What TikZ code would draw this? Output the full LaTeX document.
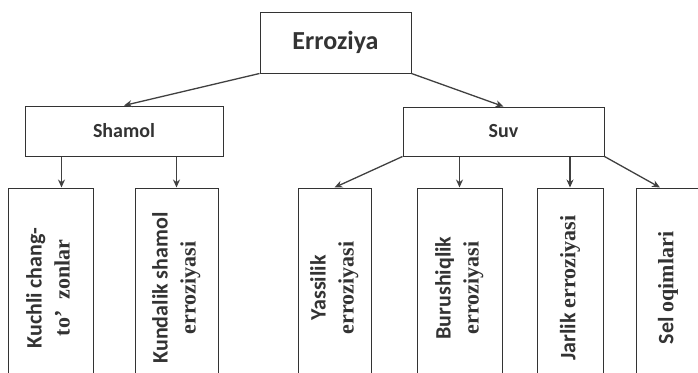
\documentclass[tikz,border=0pt]{standalone}
\usepackage{fontspec}
\setmainfont{Carlito}
\newfontfamily\serifpart{Liberation Serif}
\usepackage{tikz}
\usetikzlibrary{arrows.meta}
\newcommand{\LeafText}[2]{%
    \rotatebox{90}{\begin{tabular}{@{}c@{}}#1\\[2pt]{\serifpart #2}\end{tabular}}%
}
\newcommand{\LeafLine}[2]{%
    \rotatebox{90}{#1 {\serifpart #2}}%
}

\begin{document}
\begin{tikzpicture}[x=1pt, y=-1pt,
    box/.style={draw=black!80, line width=1pt, fill=white, inner sep=0pt, text=black!80,
                font=\bfseries\fontsize{20}{24}\selectfont},
    leaf/.style={box, minimum height=200pt, font=\bfseries\fontsize{22}{26}\selectfont},
    arr/.style={-{Stealth[length=8pt,width=7pt]}, line width=1.3pt, draw=black!75}]
    \useasboundingbox (0,0) rectangle (698,372);
    \clip (0,0) rectangle (698,372);
    % Draw top levels
    \node (erroziya) [box, minimum width=151pt, minimum height=61pt,
                      font=\bfseries\fontsize{26}{30}\selectfont] at (335.5,42.5) {Erroziya};
    \node (shamol) [box, minimum width=198pt, minimum height=50pt] at (124,131) {Shamol};
    \node (suv) [box, minimum width=201pt, minimum height=49pt] at (503.5,131.5) {Suv};
    % Draw leaves (open at the bottom)
    \node (kuchli) [leaf, minimum width=85pt] at (50.5,288) {\LeafText{Kuchli chang-}{to’\ \ zonlar}};
    \node (kundalik) [leaf, minimum width=83pt] at (176.5,288) {\LeafText{Kundalik shamol}{erroziyasi}};
    \node (yassilik) [leaf, minimum width=73pt] at (334.5,288) {\LeafText{Yassilik}{erroziyasi}};
    \node (burush) [leaf, minimum width=85pt] at (459.5,288) {\LeafText{Burushiqlik}{erroziyasi}};
    \node (jarlik) [leaf, minimum width=66pt] at (570,288) {\LeafLine{Jarlik}{erroziyasi}};
    \node (sel) [leaf, minimum width=64pt] at (668,288) {\LeafLine{Sel}{oqimlari}};
    % Draw arrows
    \draw [arr] (erroziya.south west) -- (shamol.north);
    \draw [arr] (erroziya.south east) -- (suv.north);
    \draw [arr] ([xshift=11pt]kuchli.north |- shamol.south) -- ([xshift=11pt]kuchli.north);
    \draw [arr] (kundalik.north |- shamol.south) -- (kundalik.north);
    \draw [arr] (suv.south west) -- (yassilik.north);
    \draw [arr] (burush.north |- suv.south) -- (burush.north);
    \draw [arr] (jarlik.north |- suv.south) -- (jarlik.north);
    \draw [arr] (suv.south east) -- ([xshift=-8pt]sel.north);
\end{tikzpicture}
\end{document}
